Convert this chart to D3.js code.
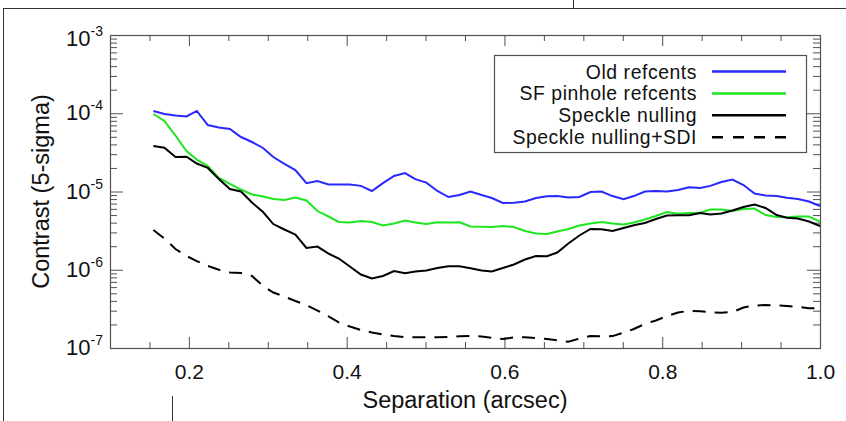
<!DOCTYPE html>
<html>
<head>
<meta charset="utf-8">
<script src="https://cdn.jsdelivr.net/npm/d3@7"></script>
<style>
    body { margin: 0; background: #fff; }
    text { font-family: "Liberation Sans", Arial, Helvetica, sans-serif; fill: #111; }
</style>
</head>
<body>
<svg id="chart" width="846" height="421"></svg>
<script>
// separation in arcsec
const separation = [
    0.155, 0.169, 0.183, 0.197, 0.210, 0.224, 0.238, 0.252, 0.266, 0.280,
    0.294, 0.307, 0.321, 0.335, 0.349, 0.363, 0.377, 0.390, 0.404, 0.418,
    0.432, 0.446, 0.460, 0.474, 0.487, 0.501, 0.515, 0.529, 0.543, 0.557,
    0.571, 0.584, 0.598, 0.612, 0.626, 0.640, 0.654, 0.667, 0.681, 0.695,
    0.709, 0.723, 0.737, 0.751, 0.764, 0.778, 0.792, 0.806, 0.820, 0.834,
    0.848, 0.861, 0.875, 0.889, 0.903, 0.917, 0.931, 0.945, 0.958, 0.972,
    0.986, 1.000
];

const oldRefcents = [
    1.07e-4, 9.78e-5, 9.36e-5, 9.09e-5, 1.07e-4, 7.07e-5, 6.57e-5, 6.29e-5, 4.97e-5, 4.29e-5,
    3.60e-5, 2.76e-5, 2.25e-5, 1.88e-5, 1.28e-5, 1.36e-5, 1.23e-5, 1.23e-5, 1.23e-5, 1.18e-5,
    1.015e-5, 1.28e-5, 1.58e-5, 1.72e-5, 1.44e-5, 1.30e-5, 1.015e-5, 8.50e-6, 9.02e-6, 1.0e-5,
    9.02e-6, 8.26e-6, 7.13e-6, 7.17e-6, 7.45e-6, 8.26e-6, 8.68e-6, 8.74e-6, 8.38e-6, 8.50e-6,
    9.85e-6, 1.0e-5, 8.74e-6, 7.95e-6, 8.74e-6, 1.0e-5, 1.015e-5, 1.0e-5, 1.045e-5, 1.13e-5,
    1.11e-5, 1.18e-5, 1.32e-5, 1.42e-5, 1.21e-5, 9.43e-6, 8.89e-6, 8.74e-6, 8.31e-6, 8.02e-6,
    7.45e-6, 6.53e-6
];

const sfPinhole = [
    9.78e-5, 7.96e-5, 5.19e-5, 3.29e-5, 2.56e-5, 2.12e-5, 1.49e-5, 1.25e-5, 1.06e-5, 9.16e-6,
    8.63e-6, 8.02e-6, 7.79e-6, 8.38e-6, 7.67e-6, 5.63e-6, 4.79e-6, 4.08e-6, 4.02e-6, 4.20e-6,
    4.08e-6, 3.68e-6, 3.90e-6, 4.26e-6, 4.02e-6, 3.84e-6, 4.04e-6, 4.02e-6, 4.04e-6, 3.57e-6,
    3.55e-6, 3.52e-6, 3.62e-6, 3.52e-6, 3.13e-6, 2.90e-6, 2.86e-6, 3.09e-6, 3.32e-6, 3.68e-6,
    3.90e-6, 4.08e-6, 3.90e-6, 3.79e-6, 4.02e-6, 4.39e-6, 4.86e-6, 5.47e-6, 5.19e-6, 5.31e-6,
    5.35e-6, 5.89e-6, 5.89e-6, 5.63e-6, 5.97e-6, 6.06e-6, 5.01e-6, 4.72e-6, 4.68e-6, 4.79e-6,
    4.79e-6, 4.11e-6
];

const speckleNulling = [
    3.81e-5, 3.63e-5, 2.76e-5, 2.78e-5, 2.28e-5, 2.00e-5, 1.44e-5, 1.076e-5, 1.0e-5, 7.23e-6,
    5.47e-6, 3.84e-6, 3.27e-6, 2.82e-6, 1.90e-6, 1.98e-6, 1.61e-6, 1.39e-6, 1.10e-6, 8.69e-7,
    7.73e-7, 8.32e-7, 9.64e-7, 9.01e-7, 9.50e-7, 9.78e-7, 1.053e-6, 1.107e-6, 1.107e-6, 1.043e-6,
    9.78e-7, 9.50e-7, 1.053e-6, 1.167e-6, 1.35e-6, 1.50e-6, 1.49e-6, 1.66e-6, 2.17e-6, 2.74e-6,
    3.32e-6, 3.30e-6, 3.13e-6, 3.42e-6, 3.71e-6, 3.96e-6, 4.45e-6, 4.93e-6, 4.97e-6, 4.97e-6,
    5.31e-6, 5.08e-6, 5.23e-6, 5.72e-6, 6.34e-6, 6.82e-6, 6.15e-6, 5.01e-6, 4.63e-6, 4.52e-6,
    4.14e-6, 3.62e-6
];

const speckleSDI = [
    3.22e-6, 2.51e-6, 1.84e-6, 1.50e-6, 1.29e-6, 1.117e-6, 1.0e-6, 9.25e-7, 9.09e-7, 8.32e-7,
    6.20e-7, 5.12e-7, 4.55e-7, 3.99e-7, 3.54e-7, 3.01e-7, 2.53e-7, 2.12e-7, 1.88e-7, 1.70e-7,
    1.58e-7, 1.49e-7, 1.42e-7, 1.38e-7, 1.37e-7, 1.37e-7, 1.37e-7, 1.38e-7, 1.41e-7, 1.43e-7,
    1.40e-7, 1.35e-7, 1.30e-7, 1.37e-7, 1.37e-7, 1.34e-7, 1.30e-7, 1.25e-7, 1.20e-7, 1.32e-7,
    1.42e-7, 1.41e-7, 1.42e-7, 1.57e-7, 1.75e-7, 2.03e-7, 2.25e-7, 2.56e-7, 2.84e-7, 2.99e-7,
    2.94e-7, 2.86e-7, 2.83e-7, 2.88e-7, 3.29e-7, 3.49e-7, 3.54e-7, 3.52e-7, 3.44e-7, 3.36e-7,
    3.22e-7, 3.22e-7
];

const seriesNames = ["Old refcents", "SF pinhole refcents", "Speckle nulling", "Speckle nulling+SDI"];
const seriesColors = ["#2828ff", "#1ee61e", "#000000", "#000000"];
const seriesDash = [null, null, null, "13,9"];

const xMajorTicks = [0.2, 0.4, 0.6, 0.8, 1.0];
const xMinorTicks = [0.15, 0.25, 0.3, 0.35, 0.45, 0.5, 0.55, 0.65, 0.7, 0.75, 0.85, 0.9, 0.95];
const yMajorTicks = [1e-7, 1e-6, 1e-5, 1e-4, 1e-3];
const yMajorExp = ["-7", "-6", "-5", "-4", "-3"];
const minorMantissa = [2, 3, 4, 5, 6, 7, 8, 9];

const allSeries = [oldRefcents, sfPinhole, speckleNulling, speckleSDI];

const svg = d3.select("#chart");
const plotLeft = 110, plotRight = 820, plotTop = 35, plotBottom = 348;
const axisColor = "#505050";

var xScale = d3.scaleLinear().domain([0.1, 1.0]).range([plotLeft, plotRight]);
var yScale = d3.scaleLog().domain([1e-7, 1e-3]).range([plotBottom, plotTop]);

// page frame bits around the figure
const frame = svg.append("g").attr("stroke", "#333").attr("stroke-width", 1);
frame.append("line").attr("x1", 3).attr("y1", 8.5).attr("x2", 846).attr("y2", 8.5);
frame.append("line").attr("x1", 3.5).attr("y1", 8).attr("x2", 3.5).attr("y2", 421);
frame.append("line").attr("x1", 573.5).attr("y1", 0).attr("x2", 573.5).attr("y2", 8);
frame.append("line").attr("x1", 172.5).attr("y1", 396).attr("x2", 172.5).attr("y2", 421);

// y minor tick values for the log axis
let yMinorTicks = [];
for (let d = -7; d < -3; d++) {
    for (let m of minorMantissa) {
        yMinorTicks.push(m * Math.pow(10, d));
    }
}

function styleAxis(g) {
    g.select(".domain").remove();
    g.selectAll(".tick line").attr("stroke", axisColor);
}

// bottom + top axes (ticks point inward)
svg.append("g").attr("transform", "translate(0," + plotBottom + ")")
    .call(d3.axisBottom(xScale).tickValues(xMinorTicks).tickSize(-6).tickFormat(""))
    .call(styleAxis);
svg.append("g").attr("transform", "translate(0," + plotBottom + ")")
    .call(d3.axisBottom(xScale).tickValues(xMajorTicks).tickSize(-11).tickPadding(16)
        .tickFormat(d3.format(".1f")))
    .call(styleAxis)
    .selectAll("text").attr("font-size", 21).attr("fill", "#111");
svg.append("g").attr("transform", "translate(0," + plotTop + ")")
    .call(d3.axisTop(xScale).tickValues(xMinorTicks).tickSize(-6).tickFormat(""))
    .call(styleAxis);
svg.append("g").attr("transform", "translate(0," + plotTop + ")")
    .call(d3.axisTop(xScale).tickValues(xMajorTicks).tickSize(-11).tickFormat(""))
    .call(styleAxis);

// left + right axes
svg.append("g").attr("transform", "translate(" + plotLeft + ",0)")
    .call(d3.axisLeft(yScale).tickValues(yMinorTicks).tickSize(-7).tickFormat(""))
    .call(styleAxis);
svg.append("g").attr("transform", "translate(" + plotLeft + ",0)")
    .call(d3.axisLeft(yScale).tickValues(yMajorTicks).tickSize(-13).tickFormat(""))
    .call(styleAxis);
svg.append("g").attr("transform", "translate(" + plotRight + ",0)")
    .call(d3.axisRight(yScale).tickValues(yMinorTicks).tickSize(-7).tickFormat(""))
    .call(styleAxis);
svg.append("g").attr("transform", "translate(" + plotRight + ",0)")
    .call(d3.axisRight(yScale).tickValues(yMajorTicks).tickSize(-13).tickFormat(""))
    .call(styleAxis);

// box
svg.append("rect")
    .attr("x", plotLeft + 0.5).attr("y", plotTop + 0.5)
    .attr("width", plotRight - plotLeft).attr("height", plotBottom - plotTop)
    .attr("fill", "none").attr("stroke", axisColor).attr("stroke-width", 1.2);

// y labels as 10^n
const yLab = svg.append("g");
yMajorTicks.forEach(function (v, i) {
    const t = yLab.append("text")
        .attr("x", 103)
        .attr("y", Math.max(yScale(v) + 7, plotTop + 11))
        .attr("text-anchor", "end")
        .attr("font-size", 22);
    t.append("tspan").text("10");
    t.append("tspan").attr("font-size", 14).attr("dy", -10).text(yMajorExp[i]);
});

// axis titles
svg.append("text")
    .attr("x", (plotLeft + plotRight) / 2).attr("y", 408)
    .attr("text-anchor", "middle").attr("font-size", 23.5)
    .text("Separation (arcsec)");
svg.append("text")
    .attr("transform", "translate(49," + (plotTop + plotBottom) / 2 + ") rotate(-90)")
    .attr("text-anchor", "middle").attr("font-size", 23.5)
    .text("Contrast (5-sigma)");

// curves
var line = d3.line()
    .x(function (d) { return xScale(d[0]); })
    .y(function (d) { return yScale(d[1]); });

allSeries.forEach(function (vals, k) {
    const pts = separation.map(function (s, i) { return [s, vals[i]]; });
    svg.append("path")
        .datum(pts)
        .attr("d", line)
        .style("fill", "none")
        .style("stroke", seriesColors[k])
        .style("stroke-width", 2)
        .style("stroke-dasharray", seriesDash[k]);
});

// legend, rows are tight so the font is kept a bit small and letter-spaced
const lg = svg.append("g");
lg.append("rect")
    .attr("x", 494.5).attr("y", 55.5).attr("width", 312).attr("height", 97)
    .attr("fill", "#fff").attr("stroke", axisColor).attr("stroke-width", 1.2);
seriesNames.forEach(function (name, k) {
    const ry = 71.5 + k * 21.9;
    lg.append("text")
        .attr("x", 697).attr("y", ry + 7)
        .attr("text-anchor", "end").attr("font-size", 19.4)
        .attr("letter-spacing", 0.55)
        .text(name);
    lg.append("line")
        .attr("x1", 712).attr("x2", 786).attr("y1", ry).attr("y2", ry)
        .attr("stroke", seriesColors[k]).attr("stroke-width", 2.5)
        .attr("stroke-dasharray", k === 3 ? "11,10" : null);
});
</script>
</body>
</html>
